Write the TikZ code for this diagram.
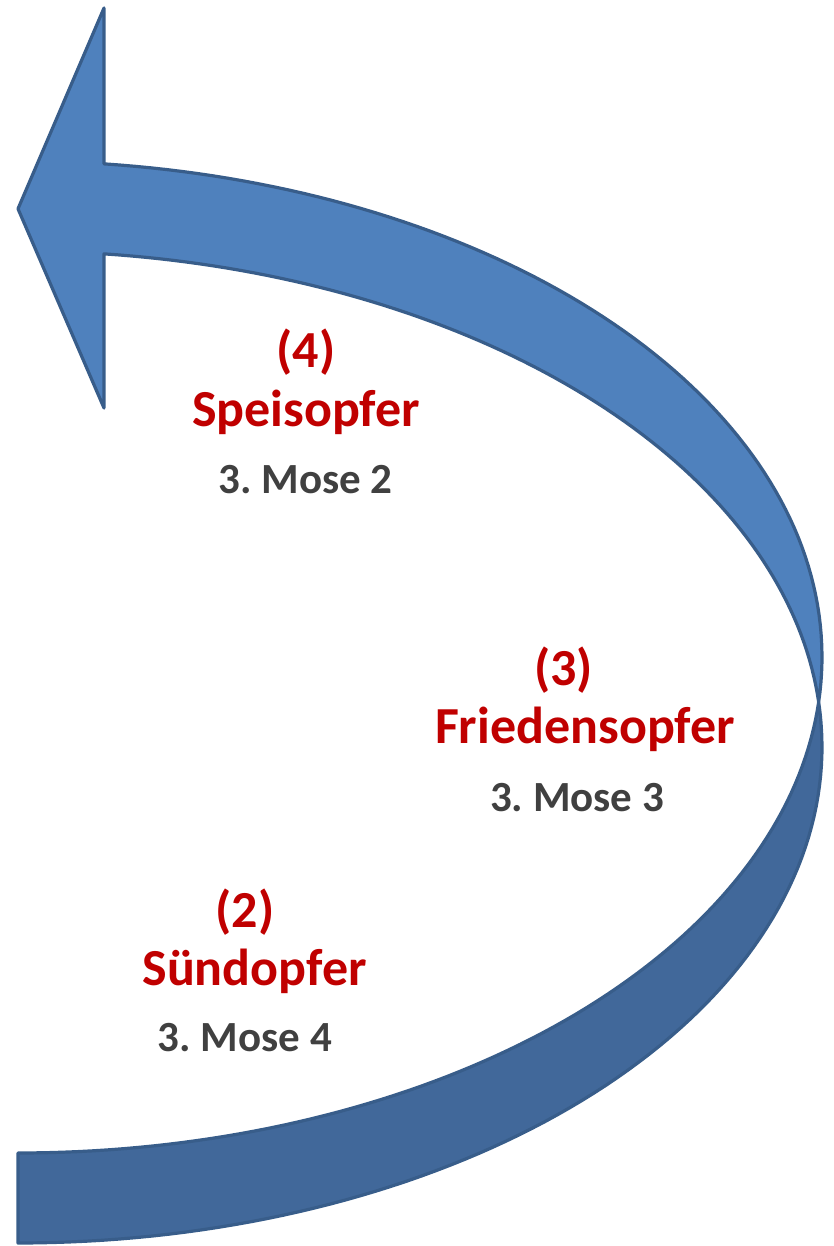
\documentclass[tikz,border=0pt]{standalone}
\usepackage{fontspec}
\setmainfont{Carlito}
\frenchspacing
\definecolor{bandlight}{HTML}{4F81BD}
\definecolor{banddark}{HTML}{41689A}
\definecolor{bandedge}{HTML}{385D8A}
\definecolor{redtxt}{HTML}{C00000}
\definecolor{graytxt}{HTML}{404040}
\tikzset{
  band/.style={draw=bandedge, line width=3.2pt, line join=round},
  title/.style={anchor=base, text=redtxt, inner sep=0pt, font=\fontsize{52}{60}\selectfont\bfseries},
  ref/.style={anchor=base, text=graytxt, inner sep=0pt, font=\fontsize{43}{50}\selectfont\bfseries}
}
\begin{document}
\begin{tikzpicture}[x=1pt,y=-1pt]
\useasboundingbox (0,0) rectangle (833,1246);
% lower (back) band
\path[band, fill=banddark]
  plot[domain=5.205:-90, samples=80] ({18+804*cos(\x)},{747-496*sin(\x)})
  -- plot[domain=-90:-5.205, samples=80] ({18+804*cos(\x)},{657-496*sin(\x)})
  -- cycle;
% upper (front) band with arrow head
\path[band, fill=bandlight]
  plot[domain=-5.205:83.86, samples=80] ({18+804*cos(\x)},{657-496*sin(\x)})
  -- (104,8) -- (18,208.8) -- (104,408)
  -- plot[domain=83.86:5.205, samples=80] ({18+804*cos(\x)},{747-496*sin(\x)})
  -- cycle;
% labels
\node[title] (n4) at (306,367) {(4)};
\node[title] (s4) at (306,426) {Speisopfer};
\node[ref]   (r4) at (305.5,493) {3.\ Mose 2};
\node[title] (n3) at (563.5,685) {(3)};
\node[title] (s3) at (585,743) {Friedensopfer};
\node[ref]   (r3) at (577,811.5) {3.\ Mose 3};
\node[title] (n2) at (245,927) {(2)};
\node[title] (s2) at (254.5,985) {Sündopfer};
\node[ref]   (r2) at (245,1051.5) {3.\ Mose 4};
\end{tikzpicture}
\end{document}
